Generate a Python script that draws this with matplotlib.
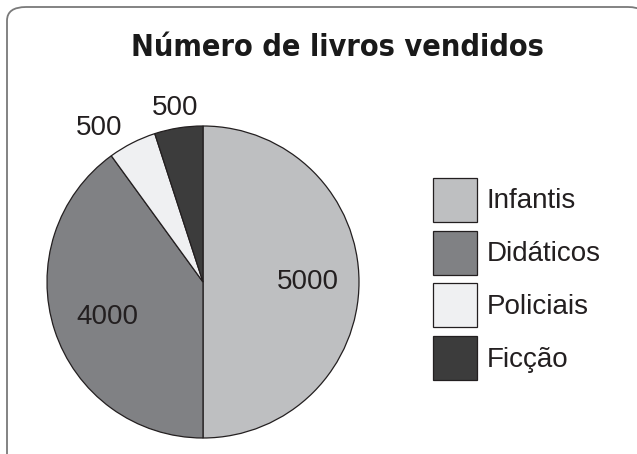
import matplotlib.pyplot as plt
from matplotlib.patches import FancyBboxPatch
import numpy as np

# Data
categorias = ["Infantis", "Didáticos", "Policiais", "Ficção"]
vendidos = [5000, 4000, 500, 500]
cores = ["#bebfc1", "#808184", "#eff0f2", "#3c3c3c"]
# label placement: radius (pie units) and angle shift from the wedge middle
dist_rotulo = [0.67, 0.65, 1.19, 1.13]
desvio_ang = [0, 2, 7, 0]

fonte = ["Liberation Sans", "DejaVu Sans"]

fig = plt.figure(figsize=(6.37, 4.54), dpi=100)

# rounded frame around the whole figure
moldura = FancyBboxPatch((7 / 637, -20 / 454), 640 / 637, 467 / 454,
                         boxstyle="round,pad=0,rounding_size=0.03",
                         transform=fig.transFigure, facecolor="white",
                         edgecolor="#7a7a7a", linewidth=1.3, zorder=-5)
fig.patches.append(moldura)

fig.text(337 / 637, 1 - 47 / 454, "Número de livros vendidos",
         family=["DejaVu Sans"], fontstretch="condensed", fontweight="bold",
         fontsize=22, ha="center", va="center", color="#1a1a1a")

# pie
ax = fig.add_axes([47 / 637, 16 / 454, 312 / 637, 312 / 454])
fatias, _ = ax.pie(vendidos, colors=cores, startangle=90, counterclock=False,
                   wedgeprops=dict(edgecolor="#231f20", linewidth=0.9))
ax.set_xlim(-1, 1)
ax.set_ylim(-1, 1)
ax.set_aspect("equal")

for w, v, d, da in zip(fatias, vendidos, dist_rotulo, desvio_ang):
    ang = np.deg2rad((w.theta1 + w.theta2) / 2 + da)
    ax.text(d * np.cos(ang), d * np.sin(ang), str(v), ha="center", va="center",
            fontsize=20, family=fonte, color="#231f20")

leg = ax.legend(fatias, categorias, loc="center left",
                bbox_to_anchor=(433 / 637, 1 - 279 / 454),
                bbox_transform=fig.transFigure, frameon=False,
                handlelength=1.58, handleheight=2.06,
                labelspacing=0.32, handletextpad=0.36, borderpad=0,
                borderaxespad=0,
                prop={"family": fonte, "size": 20})
for t in leg.get_texts():
    t.set_color("#231f20")

fig.savefig("out.png", dpi=100)
